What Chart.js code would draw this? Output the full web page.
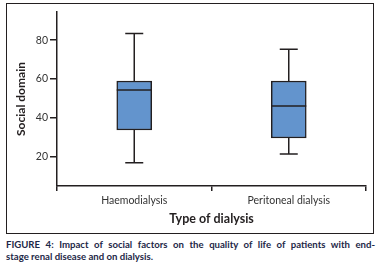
<!DOCTYPE html>
<html>
<head>
<meta charset="utf-8">
<script src="https://cdn.jsdelivr.net/npm/chart.js@4/dist/chart.umd.min.js"></script>
<style>
  html, body { margin: 0; padding: 0; background: #fff; }
  #wrap { position: relative; width: 380px; height: 267px; overflow: hidden; }
  #frame { position: absolute; left: 6px; top: 3px; width: 366px; height: 229px; border: 1.5px solid #231F20; }
  #cv { position: absolute; left: 0; top: 0; }
  #caption {
    position: absolute; left: 6px; top: 239px; width: 369px;
    font-family: Lato, "Open Sans", sans-serif; font-size: 9.6px; font-weight: 700;
    line-height: 12px; color: #1d2747; white-space: nowrap;
  }
  #caption .l1 { text-align: justify; text-align-last: justify; white-space: normal; }
</style>
</head>
<body>
<div id="wrap">
  <div id="frame"></div>
  <canvas id="cv" width="380" height="236"></canvas>
  <div id="caption">
    <div class="l1">FIGURE 4: Impact of social factors on the quality of life of patients with end-</div>
    <div>stage renal disease and on dialysis.</div>
  </div>
</div>
<script>
// box plot values
const categories = ['Haemodialysis', 'Peritoneal dialysis'];
const minVals = [17, 21.5];
const q1Vals = [33.8, 29.7];
const medianVals = [54.4, 46.2];
const q3Vals = [59, 59];
const maxVals = [83.5, 75.4];
const yTicks = [20, 40, 60, 80];

const INK = '#231F20';
const FONT = 'Lato, "Open Sans", sans-serif';

// whiskers + median drawn from the same scales as the boxes
const boxExtras = {
  id: 'boxExtras',
  afterDatasetsDraw(chart) {
    const { ctx, scales: { x, y } } = chart;
    const meta = chart.getDatasetMeta(0);
    ctx.save();
    ctx.strokeStyle = INK;
    ctx.lineWidth = 1.5;
    categories.forEach((c, i) => {
      const cx = x.getPixelForValue(i);
      const half = meta.data[i].width / 2;
      const cap = 9;
      ctx.beginPath();
      // upper whisker
      ctx.moveTo(cx, y.getPixelForValue(q3Vals[i]));
      ctx.lineTo(cx, y.getPixelForValue(maxVals[i]));
      ctx.moveTo(cx - cap, y.getPixelForValue(maxVals[i]));
      ctx.lineTo(cx + cap, y.getPixelForValue(maxVals[i]));
      // lower whisker
      ctx.moveTo(cx, y.getPixelForValue(q1Vals[i]));
      ctx.lineTo(cx, y.getPixelForValue(minVals[i]));
      ctx.moveTo(cx - cap, y.getPixelForValue(minVals[i]));
      ctx.lineTo(cx + cap, y.getPixelForValue(minVals[i]));
      // median
      ctx.moveTo(cx - half, y.getPixelForValue(medianVals[i]));
      ctx.lineTo(cx + half, y.getPixelForValue(medianVals[i]));
      ctx.stroke();
    });
    ctx.restore();
  }
};

new Chart(document.getElementById('cv'), {
  type: 'bar',
  data: {
    labels: categories,
    datasets: [{
      data: categories.map((c, i) => [q1Vals[i], q3Vals[i]]),
      backgroundColor: '#6394CD',
      borderColor: INK,
      borderWidth: 1.5,
      borderSkipped: false,
      barThickness: 35
    }]
  },
  options: {
    responsive: false,
    animation: false,
    layout: { padding: { left: 10, right: 14, top: 12, bottom: 10 } },
    plugins: { legend: { display: false }, tooltip: { enabled: false } },
    scales: {
      x: {
        offset: true,
        grid: { offset: true, drawOnChartArea: false, drawTicks: true, tickLength: 5, color: INK, lineWidth: 1.5 },
        border: { color: INK, width: 1.5 },
        ticks: { color: '#333', font: { family: FONT, size: 10.5 }, padding: 3 },
        title: { display: true, text: 'Type of dialysis', color: INK, font: { family: FONT, size: 12.5, weight: 'bold' }, padding: { top: 7, bottom: 0 } },
        afterFit(scale) { scale.height = 40; }
      },
      y: {
        min: 5,
        max: 94.5,
        afterBuildTicks(scale) { scale.ticks = yTicks.map(v => ({ value: v })); },
        grid: { drawOnChartArea: false, tickLength: 7, color: INK, lineWidth: 1.5 },
        border: { color: INK, width: 1.5 },
        ticks: { color: '#333', font: { family: FONT, size: 10.5 }, padding: 2 },
        title: { display: true, text: 'Social domain', color: INK, font: { family: FONT, size: 12, weight: 'bold' }, padding: { top: 4, bottom: 0 } },
        afterFit(scale) { scale.width = 47; }
      }
    }
  },
  plugins: [boxExtras]
});
</script>
</body>
</html>
